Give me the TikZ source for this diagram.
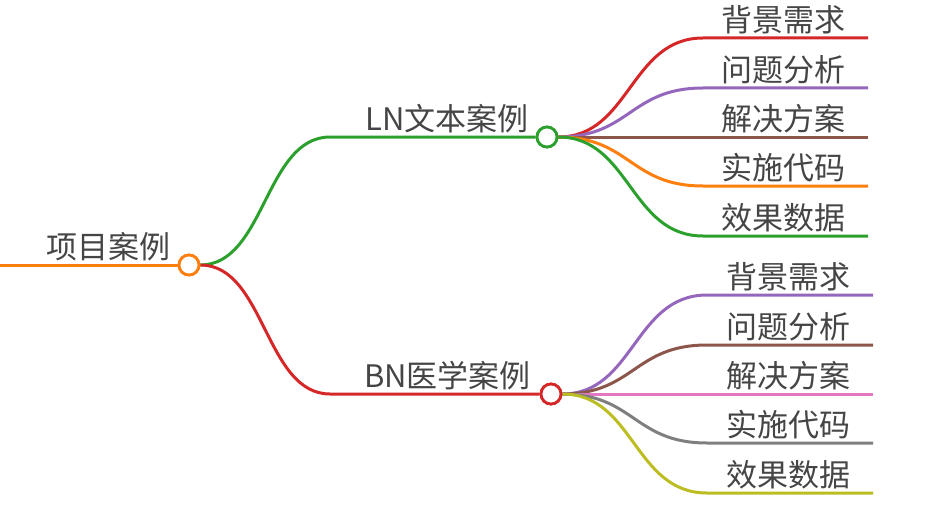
\documentclass[tikz,border=0pt]{standalone}
\usepackage{fontspec}
\newfontfamily\cjk{Noto Sans CJK SC}
\definecolor{cRed}{HTML}{D62728}
\definecolor{cPurple}{HTML}{9467BD}
\definecolor{cBrown}{HTML}{8C564B}
\definecolor{cOrange}{HTML}{FF7F0E}
\definecolor{cGreen}{HTML}{2CA02C}
\definecolor{cPink}{HTML}{E377C2}
\definecolor{cGray}{HTML}{7F7F7F}
\definecolor{cOlive}{HTML}{BCBD22}
\definecolor{txt}{HTML}{454545}
\tikzset{
  hub/.style={circle,draw=#1,line width=2.8pt,fill=white,minimum size=20pt,inner sep=0pt},
  lbl/.style={anchor=south west,inner sep=0pt,text=txt,font=\cjk\fontsize{31}{31}\selectfont},
  br/.style={line width=3pt,draw=#1}
}
\begin{document}
\begin{tikzpicture}[x=1pt,y=-1pt]
\useasboundingbox (0,0) rectangle (936,508);
% root
\coordinate (start) at (0,265);
\node[hub=cOrange] (root) at (189,265) {};
\node[lbl] (rootT) at (46,261) {项目案例};
% level 1 hubs
\node[hub=cGreen] (ln) at (547,137) {};
\node[hub=cRed] (bn) at (551,394) {};
\node[lbl] (lnT) at (365,133) {LN文本案例};
\node[lbl] (bnT) at (364,390) {BN医学案例};
\coordinate (lnH) at (330,137);
\coordinate (bnH) at (330,394);
% LN children
\foreach \n/\y/\c/\t in {a/38/cRed/背景需求,b/88/cPurple/问题分析,c/137/cBrown/解决方案,d/186/cOrange/实施代码,e/236/cGreen/效果数据}{
  \coordinate (ln\n H) at (703,\y);
  \coordinate (ln\n E) at (868,\y);
  \node[lbl] (ln\n T) at (721,\y-4) {\t};
}
\foreach \n/\y/\c/\t in {a/295/cPurple/背景需求,b/345/cBrown/问题分析,c/394/cPink/解决方案,d/443/cGray/实施代码,e/493/cOlive/效果数据}{
  \coordinate (bn\n H) at (707,\y);
  \coordinate (bn\n E) at (873,\y);
  \node[lbl] (bn\n T) at (726,\y-4) {\t};
}
% connectors
\draw[br=cOrange] (start) -- (root.west);
\draw[br=cGreen] (root.east) .. controls (265,265) and (265,137) .. (lnH) -- (ln.west);
\draw[br=cRed] (root.east) .. controls (265,265) and (265,394) .. (bnH) -- (bn.west);
\foreach \n/\c/\y in {a/cRed/38,b/cPurple/88,c/cBrown/137,d/cOrange/186,e/cGreen/236}{
  \draw[br=\c] (ln.east) .. controls (630,137) and (630,\y) .. (ln\n H) -- (ln\n E);
}
\foreach \n/\c/\y in {a/cPurple/295,b/cBrown/345,c/cPink/394,d/cGray/443,e/cOlive/493}{
  \draw[br=\c] (bn.east) .. controls (634,394) and (634,\y) .. (bn\n H) -- (bn\n E);
}
% redraw hubs on top
\node[hub=cOrange] at (root) {};
\node[hub=cGreen] at (ln) {};
\node[hub=cRed] at (bn) {};
\end{tikzpicture}
\end{document}
